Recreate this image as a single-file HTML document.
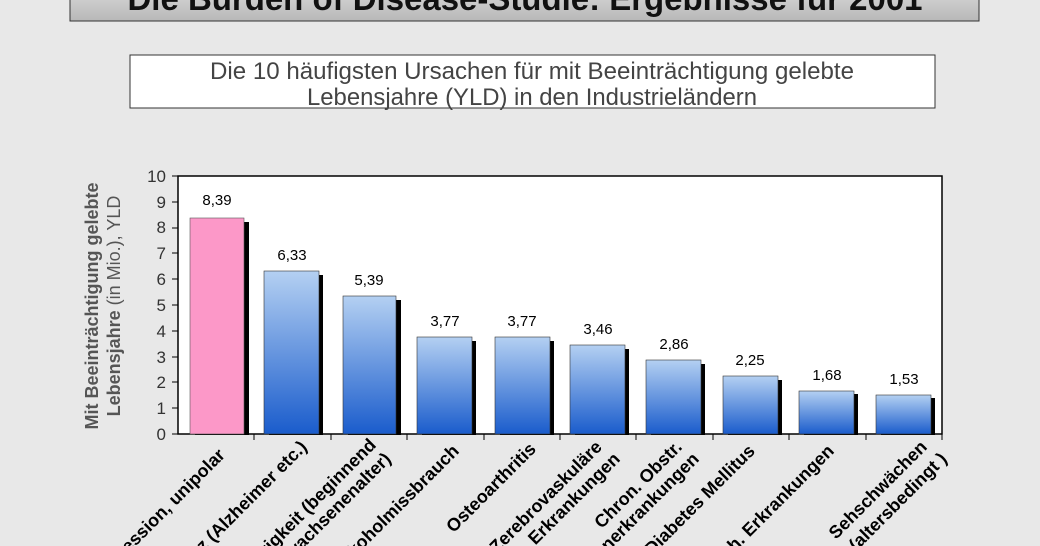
<!DOCTYPE html>
<html><head><meta charset="utf-8"><style>
html,body{margin:0;background:#e8e8e8;width:1040px;height:546px;overflow:hidden;}
svg{display:block;font-family:"Liberation Sans",Arial,sans-serif;}
</style></head><body>
<svg width="1040" height="546" viewBox="0 0 1040 546" xmlns="http://www.w3.org/2000/svg">
<defs>
<linearGradient id="tb" x1="0" y1="0" x2="0" y2="1"><stop offset="0" stop-color="#e0e0e0"/><stop offset="1" stop-color="#b8b8b8"/></linearGradient>
<linearGradient id="bl" x1="0" y1="0" x2="0" y2="1"><stop offset="0" stop-color="#b4d0f2"/><stop offset="1" stop-color="#1a5ccc"/></linearGradient>
</defs>
<rect width="1040" height="546" fill="#e8e8e8"/>
<rect x="70" y="-20" width="909" height="41" fill="url(#tb)" stroke="#333" stroke-width="1"/>
<text x="525" y="10" text-anchor="middle" font-size="33" font-weight="bold" fill="#111" textLength="795" lengthAdjust="spacingAndGlyphs">Die Burden of Disease-Studie: Ergebnisse für 2001</text>
<rect x="130" y="55" width="805" height="53" fill="#fff" stroke="#333" stroke-width="1"/>
<text x="532" y="79" text-anchor="middle" font-size="24" fill="#444" textLength="644" lengthAdjust="spacingAndGlyphs">Die 10 häufigsten Ursachen für mit Beeinträchtigung gelebte</text>
<text x="532" y="105" text-anchor="middle" font-size="24" fill="#444" textLength="450" lengthAdjust="spacingAndGlyphs">Lebensjahre (YLD) in den Industrieländern</text>
<rect x="178" y="176" width="764" height="258" fill="#fff" stroke="#000" stroke-width="1.5"/>
<g font-size="17" fill="#333" text-anchor="end">
<text x="166" y="440">0</text><text x="166" y="414">1</text><text x="166" y="388">2</text><text x="166" y="363">3</text><text x="166" y="337">4</text><text x="166" y="311">5</text><text x="166" y="285">6</text><text x="166" y="259">7</text><text x="166" y="233">8</text><text x="166" y="208">9</text><text x="166" y="182">10</text>
</g>
<g stroke="#000" stroke-width="1">
<line x1="172" y1="434" x2="178" y2="434"/><line x1="172" y1="408" x2="178" y2="408"/><line x1="172" y1="382" x2="178" y2="382"/><line x1="172" y1="357" x2="178" y2="357"/><line x1="172" y1="331" x2="178" y2="331"/><line x1="172" y1="305" x2="178" y2="305"/><line x1="172" y1="279" x2="178" y2="279"/><line x1="172" y1="253" x2="178" y2="253"/><line x1="172" y1="228" x2="178" y2="228"/><line x1="172" y1="202" x2="178" y2="202"/><line x1="172" y1="176" x2="178" y2="176"/>
<line x1="254" y1="434" x2="254" y2="440"/><line x1="331" y1="434" x2="331" y2="440"/><line x1="407" y1="434" x2="407" y2="440"/><line x1="484" y1="434" x2="484" y2="440"/><line x1="560" y1="434" x2="560" y2="440"/><line x1="636" y1="434" x2="636" y2="440"/><line x1="713" y1="434" x2="713" y2="440"/><line x1="789" y1="434" x2="789" y2="440"/><line x1="866" y1="434" x2="866" y2="440"/><line x1="942" y1="434" x2="942" y2="440"/>
</g>
<g>
<rect x="195" y="222" width="54" height="213" fill="#000"/><rect x="190" y="218" width="54" height="216" fill="#fc98c8" stroke="#555" stroke-width="0.6"/>
<rect x="269" y="275" width="54" height="160" fill="#000"/><rect x="264" y="271" width="55" height="163" fill="url(#bl)" stroke="#333" stroke-width="0.6"/>
<rect x="348" y="300" width="53" height="135" fill="#000"/><rect x="343" y="296" width="53" height="138" fill="url(#bl)" stroke="#333" stroke-width="0.6"/>
<rect x="422" y="341" width="54" height="94" fill="#000"/><rect x="417" y="337" width="55" height="97" fill="url(#bl)" stroke="#333" stroke-width="0.6"/>
<rect x="500" y="341" width="54" height="94" fill="#000"/><rect x="495" y="337" width="55" height="97" fill="url(#bl)" stroke="#333" stroke-width="0.6"/>
<rect x="575" y="349" width="54" height="86" fill="#000"/><rect x="570" y="345" width="55" height="89" fill="url(#bl)" stroke="#333" stroke-width="0.6"/>
<rect x="651" y="364" width="54" height="71" fill="#000"/><rect x="646" y="360" width="55" height="74" fill="url(#bl)" stroke="#333" stroke-width="0.6"/>
<rect x="728" y="380" width="54" height="55" fill="#000"/><rect x="723" y="376" width="55" height="58" fill="url(#bl)" stroke="#333" stroke-width="0.6"/>
<rect x="804" y="394" width="54" height="41" fill="#000"/><rect x="799" y="391" width="55" height="43" fill="url(#bl)" stroke="#333" stroke-width="0.6"/>
<rect x="881" y="398" width="54" height="37" fill="#000"/><rect x="876" y="395" width="55" height="39" fill="url(#bl)" stroke="#333" stroke-width="0.6"/>
</g>
<g font-size="15" fill="#000" text-anchor="middle">
<text x="217" y="205">8,39</text><text x="292" y="260">6,33</text><text x="369" y="285">5,39</text><text x="445" y="326">3,77</text><text x="522" y="326">3,77</text><text x="598" y="334">3,46</text><text x="674" y="349">2,86</text><text x="750" y="365">2,25</text><text x="827" y="380">1,68</text><text x="904" y="384">1,53</text>
</g>
<g font-size="18" font-weight="bold" fill="#000" text-anchor="end">
<text transform="translate(226,456) rotate(-45)">Depression, unipolar</text>
<text transform="translate(308,448) rotate(-45)">Demenz (Alzheimer etc.)</text>
<text transform="translate(377,446) rotate(-45)">Schwerhörigkeit (beginnend</text>
<text transform="translate(392,460) rotate(-45)">im Erwachsenenalter)</text>
<text transform="translate(460,452) rotate(-45)">Alkoholmissbrauch</text>
<text transform="translate(537,450) rotate(-45)">Osteoarthritis</text>
<text transform="translate(603,448) rotate(-45)">Zerebrovaskuläre</text>
<text transform="translate(621,460) rotate(-45)">Erkrankungen</text>
<text transform="translate(683,448) rotate(-45)">Chron. Obstr.</text>
<text transform="translate(700,460) rotate(-45)">Lungenerkrankungen</text>
<text transform="translate(756,452) rotate(-45)">Diabetes Mellitus</text>
<text transform="translate(835,452) rotate(-45)">Psych. Erkrankungen</text>
<text transform="translate(928,448) rotate(-45)">Sehschwächen</text>
<text transform="translate(948,460) rotate(-45)">(altersbedingt )</text>
</g>
<text transform="translate(98,306) rotate(-90)" text-anchor="middle" font-size="18" font-weight="bold" fill="#555">Mit Beeinträchtigung gelebte</text>
<text transform="translate(120,306) rotate(-90)" text-anchor="middle" font-size="18" fill="#555"><tspan font-weight="bold">Lebensjahre</tspan> (in Mio.), YLD</text>
</svg>
</body></html>
